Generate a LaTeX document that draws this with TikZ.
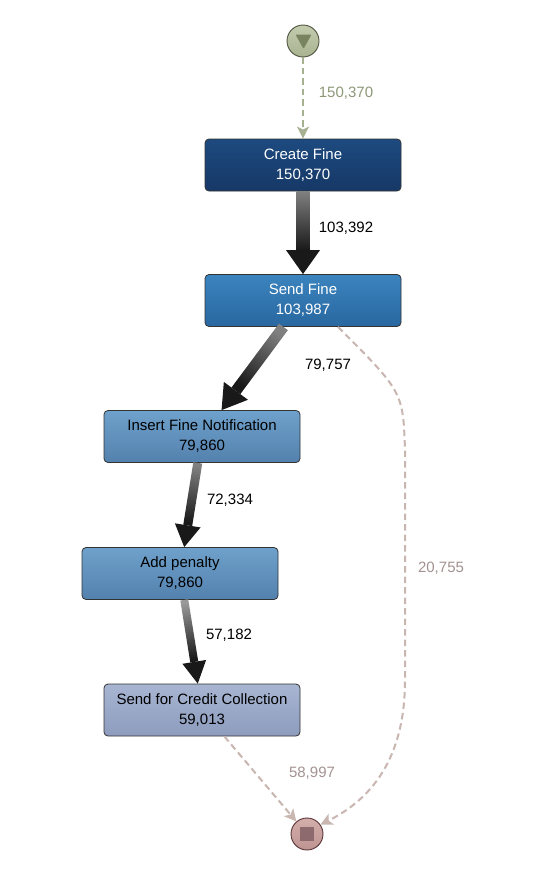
\documentclass[tikz,border=0pt]{standalone}
\usepackage{fontspec}
\setmainfont{Liberation Sans}
\usetikzlibrary{arrows.meta,calc}
\definecolor{azuloscuro}{HTML}{1D4A80}
\definecolor{azuloscurob}{HTML}{163866}
\definecolor{azulmedio}{HTML}{3B84BE}
\definecolor{azulmediob}{HTML}{2967A0}
\definecolor{azulclaro}{HTML}{6EA1CB}
\definecolor{azulclarob}{HTML}{5381AD}
\definecolor{lila}{HTML}{A8B6D3}
\definecolor{lilab}{HTML}{8D9BBD}
\definecolor{verdefondo}{HTML}{C3CCAE}
\definecolor{verdefondob}{HTML}{A9B391}
\definecolor{verdeborde}{HTML}{4E5440}
\definecolor{verdetri}{HTML}{78845F}
\definecolor{verdeflecha}{HTML}{A6B191}
\definecolor{verdetexto}{HTML}{8C9878}
\definecolor{rosafondo}{HTML}{D3AEAB}
\definecolor{rosafondob}{HTML}{BE9491}
\definecolor{rosaborde}{HTML}{5A3438}
\definecolor{rosacuadro}{HTML}{8D6A6D}
\definecolor{rosaflecha}{HTML}{C9B6B1}
\definecolor{rosatexto}{HTML}{A39390}
\tikzset{
  actividad/.style={draw=black!80, rounded corners=4pt, line width=0.8pt,
    minimum width=196pt, minimum height=52pt, inner sep=0pt, align=center,
    font=\fontsize{15}{20}\selectfont},
  evento/.style={circle, minimum size=32pt, inner sep=0pt, line width=0.9pt},
  flujo/.style={line width=2pt, dash pattern=on 6.5pt off 4pt,
    -{Stealth[length=12pt,width=12pt,inset=3pt]}},
  etiqueta/.style={inner sep=0pt, font=\fontsize{15}{18}\selectfont}
}
% flecha gruesa: origen, destino, medio ancho, medio ancho punta, largo punta, color arriba
\newcommand\flujogrueso[6]{%
  \path (#1) -- (#2) coordinate[pos=0] (fa) coordinate[pos=1] (fb);
  \pgfmathanglebetweenpoints{\pgfpointanchor{fa}{center}}{\pgfpointanchor{fb}{center}}%
  \let\angflujo\pgfmathresult
  \pgfmathsetmacro\angsombra{\angflujo+90}%
  \coordinate (fc) at ($(fb)!#5!(fa)$);
  \shade[top color=#6, bottom color=black!90, shading angle=\angsombra]
    ($(fa)!#3!90:(fb)$) -- ($(fc)!#3!90:(fb)$) -- ($(fc)!#3!-90:(fb)$)
    -- ($(fa)!#3!-90:(fb)$) -- cycle;
  \fill[black!90] ($(fc)!#4!90:(fb)$) -- (fb) -- ($(fc)!#4!-90:(fb)$) -- cycle;
}
\begin{document}
\begin{tikzpicture}[x=1pt,y=-1pt]
    \useasboundingbox[fill=white] (0,0) rectangle (552,881);
    % Eventos de inicio y fin
    \node[evento, draw=verdeborde, top color=verdefondo, bottom color=verdefondob] (ini) at (303,41) {};
    \fill[verdetri, rounded corners=1pt] (295.5,34.5) -- (311.5,34.5) -- (303.5,49) -- cycle;
    \node[evento, draw=rosaborde, top color=rosafondo, bottom color=rosafondob] (fin) at (307,834) {};
    \fill[rosacuadro] (300,827) rectangle (314,841);
    % Actividades
    \node[actividad, top color=azuloscuro, bottom color=azuloscurob, text=white] (cf) at (303,165) {Create Fine\\150,370};
    \node[actividad, top color=azulmedio, bottom color=azulmediob, text=white] (sf) at (303,300.5) {Send Fine\\103,987};
    \node[actividad, top color=azulclaro, bottom color=azulclarob] (ifn) at (202,436.5) {Insert Fine Notification\\79,860};
    \node[actividad, top color=azulclaro, bottom color=azulclarob] (ap) at (180,573.5) {Add penalty\\79,860};
    \node[actividad, top color=lila, bottom color=lilab] (sfcc) at (202,710) {Send for Credit Collection\\59,013};
    % Flujos principales
    \flujogrueso{cf}{sf}{6.5pt}{17pt}{24pt}{black!50}
    \flujogrueso{sf}{ifn}{5.5pt}{15pt}{24pt}{black!50}
    \flujogrueso{ifn}{ap}{4.5pt}{13pt}{22pt}{black!50}
    \flujogrueso{ap}{sfcc}{4pt}{12pt}{22pt}{black!40}
    % Flujos punteados
    \draw[flujo, draw=verdeflecha, color=verdeflecha] (ini) -- (cf);
    \draw[flujo, draw=rosaflecha, color=rosaflecha] (sfcc) -- (fin);
    \draw[flujo, draw=rosaflecha, color=rosaflecha] ([xshift=35pt]sf.south)
        .. controls (403,392) .. (405,450) -- (405,680)
        .. controls (405,760) and (370,800) .. (fin.35);
    % Etiquetas
    \node[etiqueta, text=verdetexto] (e1) at (346,93) {150,370};
    \node[etiqueta] (e2) at (346,228) {103,392};
    \node[etiqueta] (e3) at (328,365) {79,757};
    \node[etiqueta] (e4) at (230,500) {72,334};
    \node[etiqueta] (e5) at (229,635) {57,182};
    \node[etiqueta, text=rosatexto] (e6) at (441,568) {20,755};
    \node[etiqueta, text=rosatexto] (e7) at (312,773) {58,997};
\end{tikzpicture}
\end{document}
